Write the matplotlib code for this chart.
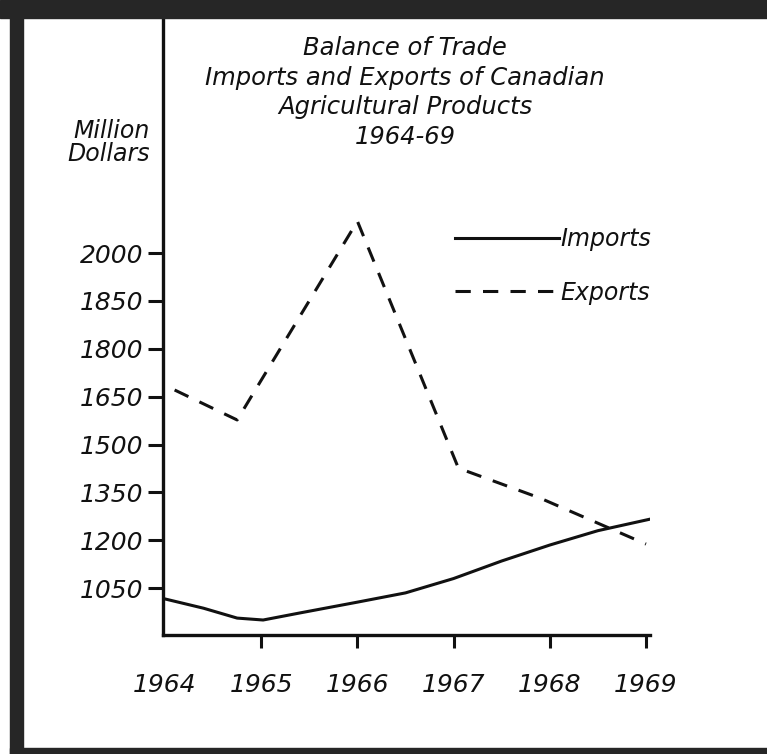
import matplotlib
matplotlib.use('Agg')
import matplotlib.pyplot as plt
from matplotlib.patches import Rectangle

plt.rcParams['font.family'] = 'DejaVu Sans'
plt.rcParams['font.style'] = 'italic'

# 수입 (실선, 부드러운 곡선) - 그림에서 읽은 값
imp_years = [1964.0, 1964.4, 1964.75, 1965.02, 1965.4, 1966.0, 1966.5,
             1967.0, 1967.5, 1968.0, 1968.5, 1969.04]
imp_values = [1016, 987, 956, 950, 972, 1006, 1035,
              1080, 1135, 1185, 1230, 1266]

# 수출 (점선)
exp_years = [1964.1, 1964.75, 1966.0, 1967.05, 1967.9, 1969.0]
exp_values = [1671, 1577, 2200, 1426, 1332, 1188]

# 축 눈금 (원본의 라벨 그대로: 1850 다음 1800)
y_ticks = [1050, 1200, 1350, 1500, 1650, 1800, 1950, 2100]
y_labels = ['1050', '1200', '1350', '1500', '1650', '1800', '1850', '2000']
x_ticks = [1964, 1965, 1966, 1967, 1968, 1969]

W, H = 767, 754
fig = plt.figure(figsize=(W / 100, H / 100), dpi=100)
ax = fig.add_axes([163 / W, (H - 635) / H, (650 - 163) / W, (635 - 18) / H])

ink = '#111111'
ax.plot(imp_years, imp_values, color=ink, lw=2.2, label='Imports',
        solid_joinstyle='round')
ax.plot(exp_years, exp_values, color=ink, lw=2.2, linestyle=(0, (5, 4)),
        label='Exports')

ax.set_xlim(1964 - 2 / 96.2, 1969 + 4 / 96.2)
ax.set_ylim(903, 2837)

for s in ['top', 'right']:
    ax.spines[s].set_visible(False)
for s in ['left', 'bottom']:
    ax.spines[s].set_linewidth(2.4)
    ax.spines[s].set_color(ink)

ax.set_yticks(y_ticks)
ax.set_yticklabels(y_labels)
ax.set_xticks(x_ticks)
ax.set_xticklabels([str(x) for x in x_ticks])
ax.tick_params(axis='y', direction='out', length=11, width=2.2, pad=3,
               labelsize=18, colors=ink)
ax.tick_params(axis='x', direction='out', length=9, width=2.2, pad=18,
               labelsize=18, colors=ink)
ax.xaxis.get_major_ticks()[0].tick1line.set_visible(False)

fig.text(405 / W, 1 - 36 / H,
         'Balance of Trade\nImports and Exports of Canadian\nAgricultural Products\n1964-69',
         ha='center', va='top', fontsize=17.5, color=ink, linespacing=1.3)
fig.text(150 / W, 1 - 119 / H, 'Million\nDollars', ha='right', va='top',
         fontsize=17, color=ink, linespacing=0.95)

leg = ax.legend(loc='upper left', bbox_to_anchor=(455 / W, 1 - 227 / H),
                bbox_transform=fig.transFigure, frameon=False, fontsize=17,
                handlelength=4.4, handletextpad=0.05, labelspacing=1.25,
                borderpad=0, borderaxespad=0)
for t in leg.get_texts():
    t.set_color(ink)

# 스캔 테두리
edge = '#262626'
fig.patches.append(Rectangle((0, 1 - 18 / H), 1, 18 / H, transform=fig.transFigure,
                             color=edge, zorder=0))
fig.patches.append(Rectangle((10 / W, 0), 13 / W, 1, transform=fig.transFigure,
                             color=edge, zorder=0))
fig.patches.append(Rectangle((10 / W, 0), 1, 6 / H, transform=fig.transFigure,
                             color=edge, zorder=0))

fig.savefig('out.png', dpi=100)
